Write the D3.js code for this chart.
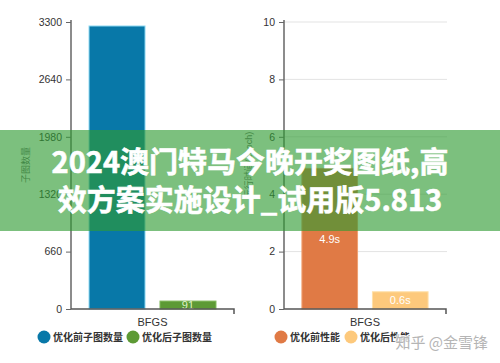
<!DOCTYPE html>
<html>
<head>
<meta charset="utf-8">
<script src="https://cdn.jsdelivr.net/npm/d3@7"></script>
<style>
  body { margin: 0; background: #fff; }
  svg { display: block; font-family: "Liberation Sans", Arial, "Noto Sans CJK SC", sans-serif; }
</style>
</head>
<body>
<svg width="500" height="363"></svg>
<script>
const categories = ["BFGS"];

const leftSeries = ["优化前子图数量", "优化后子图数量"];
const leftValues = [3254, 91];
const leftLabels = ["", "91"];
const leftTicks = [0, 660, 1320, 1980, 2640, 3300];

const rightSeries = ["优化前性能", "优化后性能"];
const rightValues = [4.9, 0.6];
const rightLabels = ["4.9s", "0.6s"];
const rightTicks = [0, 2, 4, 6, 8, 10];

const bannerLines = ["2024澳门特马今晚开奖图纸,高", "效方案实施设计_试用版5.813"];

const svg = d3.select('svg');

function panel(opts) {
    const g = svg.append('g');

    const y = d3.scaleLinear()
        .domain([0, opts.max])
        .range([309, 22]);

    const x = d3.scaleBand()
        .domain(opts.series)
        .range([opts.x0, opts.x1])
        .paddingInner(0.211)
        .paddingOuter(0.254);

    // grid
    if (opts.grid) {
        g.selectAll('.grid')
            .data(opts.ticks.filter(t => t > 0))
            .enter()
            .append('line')
            .attr('x1', opts.x0)
            .attr('x2', opts.x1 + 1)
            .attr('y1', d => y(d))
            .attr('y2', d => y(d))
            .attr('stroke', '#e3e3e3');
    }

    // bars
    g.selectAll('.bar')
        .data(opts.values)
        .enter()
        .append('rect')
        .attr('x', (d, i) => x(opts.series[i]))
        .attr('y', d => y(d))
        .attr('width', x.bandwidth())
        .attr('height', d => y(0) - y(d))
        .attr('fill', (d, i) => opts.colors[i])
        .attr('stroke', (d, i) => opts.edges[i])
        .attr('stroke-width', 1);

    g.selectAll('.lbl')
        .data(opts.values)
        .enter()
        .append('text')
        .attr('x', (d, i) => x(opts.series[i]) + x.bandwidth() / 2)
        .attr('y', d => (y(d) + y(0)) / 2 + 4)
        .attr('text-anchor', 'middle')
        .attr('font-size', 11)
        .attr('fill', opts.labelColor)
        .text((d, i) => opts.labels[i]);

    // y axis
    const yAxis = d3.axisLeft(y)
        .tickValues(opts.ticks)
        .tickFormat(d3.format('d'))
        .tickSize(5)
        .tickSizeOuter(0)
        .tickPadding(4);
    const ya = g.append('g')
        .attr('transform', 'translate(' + opts.x0 + ',0)')
        .call(yAxis);
    ya.select('.domain').attr('stroke', '#666').attr('stroke-width', 1.5).attr('d', 'M0,20V309');
    ya.selectAll('.tick line').attr('stroke', '#666');
    ya.selectAll('.tick text').attr('fill', '#333').attr('font-size', 10.5)
        .attr('font-family', '"Liberation Sans", Arial, sans-serif');

    // x axis
    const xc = d3.scaleBand().domain(categories).range([opts.x0, opts.x1]);
    const xAxis = d3.axisBottom(xc).tickSize(0).tickPadding(9);
    const xa = g.append('g')
        .attr('transform', 'translate(0,309)')
        .call(xAxis);
    xa.select('.domain').attr('stroke', '#555').attr('stroke-width', 1.5)
        .attr('d', 'M' + opts.x0 + ',0H' + opts.x1 + 'V5');
    xa.selectAll('.tick text').attr('fill', '#333').attr('font-size', 11)
        .attr('font-family', '"Liberation Sans", Arial, sans-serif');

    // y title
    g.append('text')
        .attr('transform', 'translate(' + opts.titleX + ',165) rotate(-90)')
        .attr('text-anchor', 'middle')
        .attr('font-size', 9)
        .attr('fill', '#666')
        .text(opts.title);

    // legend
    const leg = g.selectAll('.leg')
        .data(opts.series)
        .enter()
        .append('g')
        .attr('transform', (d, i) => 'translate(' + opts.legendX[i] + ',337)');
    leg.append('circle')
        .attr('r', 6.5)
        .attr('fill', (d, i) => opts.colors[i]);
    leg.append('text')
        .attr('x', 9)
        .attr('y', 4)
        .attr('font-size', 10)
        .attr('font-weight', 'bold')
        .attr('font-family', '"Noto Sans CJK SC", sans-serif')
        .attr('fill', '#333')
        .text(d => d);
}

panel({
    series: leftSeries, values: leftValues, labels: leftLabels, ticks: leftTicks,
    max: 3300, x0: 71, x1: 234, grid: false,
    colors: ['#0878a8', '#5d9a35'], edges: ['#8bd8f2', '#7fb85a'],
    labelColor: '#dff2c8', title: '子图数量', titleX: 29, legendX: [44, 133]
});

panel({
    series: rightSeries, values: rightValues, labels: rightLabels, ticks: rightTicks,
    max: 10, x0: 284, x1: 446, grid: true,
    colors: ['#e07a45', '#fdc97c'], edges: ['#f0a070', '#ffe0a8'],
    labelColor: '#fff', title: '运行时间(epoch)', titleX: 252, legendX: [281, 351]
});

// watermark
svg.append('text')
    .attr('x', 488)
    .attr('y', 348)
    .attr('text-anchor', 'end')
    .attr('font-size', 15)
    .attr('font-family', '"Noto Sans CJK SC", sans-serif')
    .attr('fill', '#b5b5b5')
    .attr('stroke', 'rgba(255,255,255,0.8)')
    .attr('stroke-width', 3)
    .attr('paint-order', 'stroke')
    .text('知乎 @金雪锋');

// banner overlay
svg.append('rect')
    .attr('x', 0)
    .attr('y', 130)
    .attr('width', 500)
    .attr('height', 101)
    .attr('fill', 'rgba(47,155,50,0.63)');

svg.selectAll('.banner')
    .data(bannerLines)
    .enter()
    .append('text')
    .attr('x', 250)
    .attr('y', (d, i) => 173 + i * 38)
    .attr('text-anchor', 'middle')
    .attr('font-size', 29)
    .attr('font-weight', 'bold')
    .attr('font-family', '"Noto Sans CJK SC", sans-serif')
    .attr('fill', '#fff')
    .attr('stroke', '#fff')
    .attr('stroke-width', 0.6)
    .text(d => d);
</script>
</body>
</html>
